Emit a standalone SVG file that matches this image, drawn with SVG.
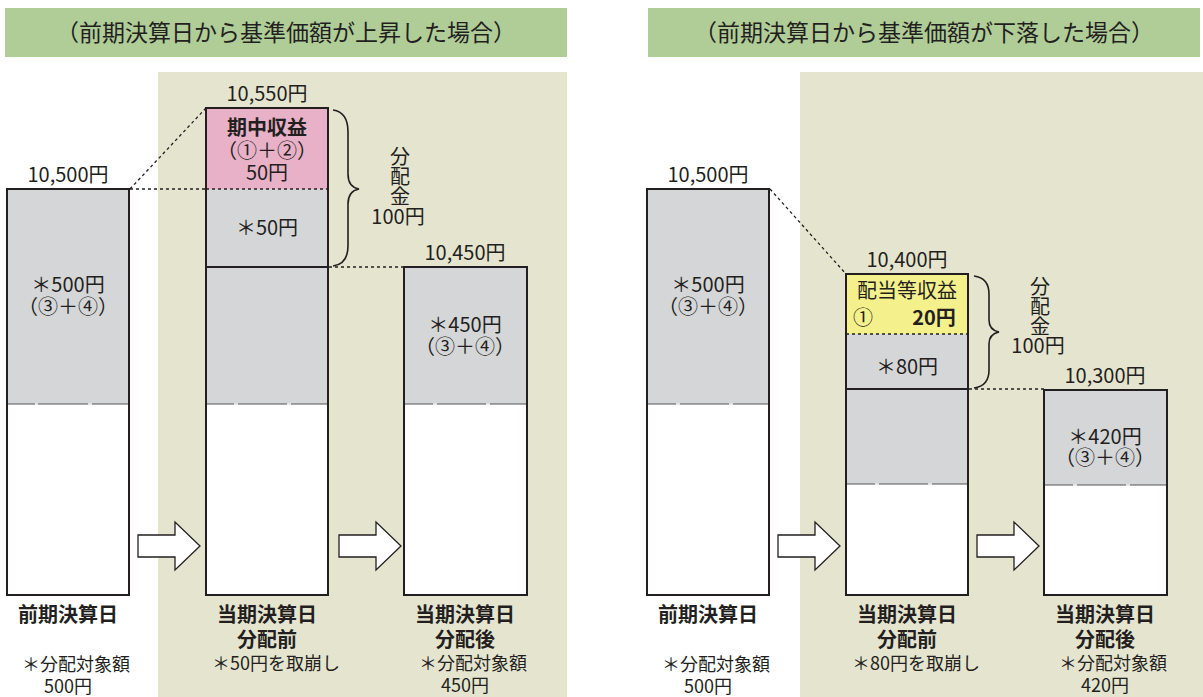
<svg xmlns="http://www.w3.org/2000/svg" width="1203" height="697" viewBox="0 0 1203 697">
<defs>
<style>
text{font-family:"Noto Sans CJK JP","Liberation Sans",sans-serif;fill:#231f20;text-anchor:middle}
.hd{font-size:23px}
.lb{font-size:20px}
.bl{font-size:20px;font-weight:bold}
.b{font-weight:bold}
.n{font-weight:normal}
.s18{font-size:18px}
.sm{font-size:18px}
.vt{font-size:20px;writing-mode:vertical-rl;text-anchor:start}
.box{stroke:#231f20;stroke-width:2;fill:none}
.gray{fill:#d5d6d8}
.wh{fill:#ffffff}
.sep{stroke:#555;stroke-width:1}
.dot{stroke:#231f20;stroke-width:1.3;stroke-dasharray:3,3;fill:none}
.arrow{fill:#ffffff;stroke:#231f20;stroke-width:1.3}
.brace{fill:none;stroke:#231f20;stroke-width:1.6}
.nick{stroke:#ffffff;stroke-width:1.5}
</style>
</defs>
<rect x="0" y="0" width="1203" height="697" fill="#ffffff"/>
<g id="panels">
<rect x="5" y="8" width="562" height="49" fill="#b0cd98"/>
<rect x="158" y="72" width="409" height="625" fill="#e5e5cf"/>
<rect x="648" y="8" width="552" height="49" fill="#b0cd98"/>
<rect x="800" y="72" width="403" height="625" fill="#e5e5cf"/>
<text class="hd" x="286" y="41">（前期決算日から基準価額が上昇した場合）</text>
<text class="hd" x="924" y="41">（前期決算日から基準価額が下落した場合）</text>
</g>
<g id="connectors">
<line class="dot" x1="130" y1="189" x2="206" y2="189"/>
<line class="dot" x1="130" y1="189" x2="206" y2="108"/>
<line class="dot" x1="329" y1="267" x2="404" y2="267"/>
<line class="dot" x1="770" y1="189" x2="846" y2="274"/>
<line class="dot" x1="969" y1="389" x2="1044" y2="389"/>
<path class="brace" d="M333,110 Q348,112 348,132 L348,174 Q348,187 359,189 Q348,191 348,204 L348,246 Q348,264 333,266"/>
<path class="brace" d="M974,276 Q989,278 989,294 L989,320 Q989,330 999,332 Q989,334 989,344 L989,370 Q989,386 974,388"/>
<path class="arrow" d="M138,535 L175,535 L175,522 L200,546 L175,570 L175,557 L138,557 Z"/>
<path class="arrow" d="M339,535 L376,535 L376,522 L401,546 L376,570 L376,557 L339,557 Z"/>
<path class="arrow" d="M778,535 L815,535 L815,522 L840,546 L815,570 L815,557 L778,557 Z"/>
<path class="arrow" d="M977,535 L1014,535 L1014,522 L1039,546 L1014,570 L1014,557 L977,557 Z"/>
</g>
<g id="node-l1">
<rect class="gray" x="7" y="189" width="122" height="215"/>
<rect class="wh" x="7" y="404" width="122" height="191"/>
<line class="sep" x1="7" y1="404" x2="129" y2="404"/>
<line class="nick" x1="35" y1="404" x2="38" y2="404"/><line class="nick" x1="88" y1="404" x2="92" y2="404"/>
<rect class="box" x="7" y="189" width="122" height="406"/>
<text class="lb" x="68" y="182">10,500円</text>
<text class="lb" x="68" y="292">＊500円<tspan x="68" dy="22">（③＋④）</tspan></text>
<text class="bl" x="68" y="622">前期決算日</text>
<text class="sm" x="76" y="671">＊分配対象額<tspan x="68" dy="22">500円</tspan></text>
</g>
<g id="node-l2">
<rect x="206" y="108" width="122" height="81" fill="#e8b1c7"/>
<rect class="gray" x="206" y="189" width="122" height="215"/>
<rect class="wh" x="206" y="404" width="122" height="191"/>
<line class="dot" x1="206" y1="189" x2="328" y2="189"/>
<line x1="206" y1="267" x2="328" y2="267" stroke="#231f20" stroke-width="2"/>
<line class="sep" x1="206" y1="404" x2="328" y2="404"/>
<line class="nick" x1="234" y1="404" x2="238" y2="404"/><line class="nick" x1="287" y1="404" x2="291" y2="404"/>
<rect class="box" x="206" y="108" width="122" height="487"/>
<text class="lb" x="267" y="101">10,550円</text>
<text class="lb" x="267" y="135"><tspan class="b">期中収益</tspan><tspan x="267" dy="23">（①＋②）</tspan><tspan x="267" dy="22">50円</tspan></text>
<text class="lb" x="267" y="235">＊50円</text>
<text class="vt" x="400" y="146">分配金</text>
<text class="lb" x="398" y="224">100円</text>
<text class="bl" x="267" y="622">当期決算日<tspan x="267" dy="25">分配前</tspan><tspan class="n s18" x="276" dy="23">＊50円を取崩し</tspan></text>
</g>
<g id="node-l3">
<rect class="gray" x="404" y="267" width="123" height="137"/>
<rect class="wh" x="404" y="404" width="123" height="191"/>
<line class="sep" x1="404" y1="404" x2="527" y2="404"/>
<line class="nick" x1="433" y1="404" x2="437" y2="404"/><line class="nick" x1="486" y1="404" x2="490" y2="404"/>
<rect class="box" x="404" y="267" width="123" height="328"/>
<text class="lb" x="465" y="260">10,450円</text>
<text class="lb" x="465" y="332">＊450円<tspan x="465" dy="22">（③＋④）</tspan></text>
<text class="bl" x="465" y="622">当期決算日<tspan x="465" dy="25">分配後</tspan><tspan class="n s18" x="473" dy="23">＊分配対象額</tspan><tspan class="n s18" x="465" dy="22">450円</tspan></text>
</g>
<g id="node-r1">
<rect class="gray" x="647" y="189" width="122" height="215"/>
<rect class="wh" x="647" y="404" width="122" height="191"/>
<line class="sep" x1="647" y1="404" x2="769" y2="404"/>
<line class="nick" x1="676" y1="404" x2="680" y2="404"/><line class="nick" x1="729" y1="404" x2="733" y2="404"/>
<rect class="box" x="647" y="189" width="122" height="406"/>
<text class="lb" x="708" y="182">10,500円</text>
<text class="lb" x="708" y="292">＊500円<tspan x="708" dy="22">（③＋④）</tspan></text>
<text class="bl" x="708" y="622">前期決算日</text>
<text class="sm" x="716" y="671">＊分配対象額<tspan x="708" dy="22">500円</tspan></text>
</g>
<g id="node-r2">
<rect x="846" y="274" width="122" height="60" fill="#f4f08b"/>
<rect class="gray" x="846" y="334" width="122" height="150"/>
<rect class="wh" x="846" y="484" width="122" height="111"/>
<line class="dot" x1="846" y1="334" x2="968" y2="334"/>
<line x1="846" y1="389" x2="968" y2="389" stroke="#231f20" stroke-width="2"/>
<line class="sep" x1="846" y1="484" x2="968" y2="484"/>
<line class="nick" x1="875" y1="484" x2="879" y2="484"/><line class="nick" x1="928" y1="484" x2="932" y2="484"/>
<rect class="box" x="846" y="274" width="122" height="321"/>
<text class="lb" x="907" y="267">10,400円</text>
<text class="lb" x="907" y="298">配当等収益<tspan x="863" dy="27">①</tspan><tspan class="b" x="934">20円</tspan></text>
<text class="lb" x="907" y="374">＊80円</text>
<text class="vt" x="1040" y="276">分配金</text>
<text class="lb" x="1038" y="353">100円</text>
<text class="bl" x="907" y="622">当期決算日<tspan x="907" dy="25">分配前</tspan><tspan class="n s18" x="916" dy="23">＊80円を取崩し</tspan></text>
</g>
<g id="node-r3">
<rect class="gray" x="1044" y="390" width="123" height="95"/>
<rect class="wh" x="1044" y="485" width="123" height="110"/>
<line class="sep" x1="1044" y1="485" x2="1167" y2="485"/>
<line class="nick" x1="1073" y1="485" x2="1077" y2="485"/><line class="nick" x1="1126" y1="485" x2="1130" y2="485"/>
<rect class="box" x="1044" y="390" width="123" height="205"/>
<text class="lb" x="1105" y="383">10,300円</text>
<text class="lb" x="1105" y="444">＊420円<tspan x="1105" dy="21">（③＋④）</tspan></text>
<text class="bl" x="1105" y="622">当期決算日<tspan x="1105" dy="25">分配後</tspan><tspan class="n s18" x="1113" dy="23">＊分配対象額</tspan><tspan class="n s18" x="1105" dy="22">420円</tspan></text>
</g>
</svg>
